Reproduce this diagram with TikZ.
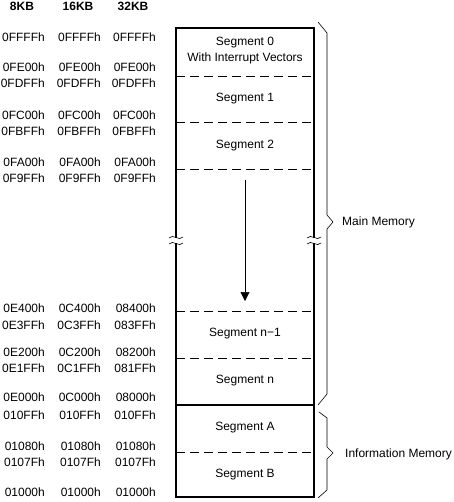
\documentclass[tikz,border=0pt]{standalone}
\usepackage{fontspec}
\setmainfont{Liberation Sans}
\usetikzlibrary{arrows.meta}
\begin{document}
\begin{tikzpicture}[x=1pt,y=-1pt,
  addr/.style={anchor=east,inner sep=0pt,font=\fontsize{12}{13}\selectfont},
  hdr/.style={inner sep=0pt,font=\fontsize{12}{13}\selectfont\bfseries},
  seg/.style={inner sep=0pt,font=\fontsize{12}{16}\selectfont,align=center},
  segline/.style={line width=0.8pt,dash pattern=on 9pt off 5pt},
  boxline/.style={line width=1.4pt},
  brace/.style={line width=0.6pt},
  lbl/.style={anchor=west,inner sep=0pt,font=\fontsize{12}{13}\selectfont}]
\useasboundingbox (0,0) rectangle (453,502);
% headers
\node[hdr] (h8)  at (22,6)  {8KB};
\node[hdr] (h16) at (78,6)  {16KB};
\node[hdr] (h32) at (133,6) {32KB};
% addresses
\foreach \y/\a/\b/\c [count=\i] in {
  37/0FFFFh/0FFFFh/0FFFFh,
  67/0FE00h/0FE00h/0FE00h,
  83/0FDFFh/0FDFFh/0FDFFh,
  115/0FC00h/0FC00h/0FC00h,
  131/0FBFFh/0FBFFh/0FBFFh,
  162/0FA00h/0FA00h/0FA00h,
  178/0F9FFh/0F9FFh/0F9FFh,
  308/0E400h/0C400h/08400h,
  325/0E3FFh/0C3FFh/083FFh,
  352/0E200h/0C200h/08200h,
  368/0E1FFh/0C1FFh/081FFh,
  397/0E000h/0C000h/08000h,
  415/010FFh/010FFh/010FFh,
  446/01080h/01080h/01080h,
  462/0107Fh/0107Fh/0107Fh,
  492/01000h/01000h/01000h}{
  \node[addr] (a\i) at (45,\y) {\a};
  \node[addr] (b\i) at (101,\y) {\b};
  \node[addr] (c\i) at (156,\y) {\c};
}
% memory box
\draw[boxline] (176,28) rectangle (314,497);
\foreach \y in {76,122,169,311,358,452}
  \draw[segline] (176,\y) -- (314,\y);
\draw[boxline] (176,405) -- (314,405);
% break marks
\foreach \x in {176,314}{
  \fill[white] (\x-6,237.5) rectangle (\x+6,242.5);
  \draw[line width=0.6pt] (\x-7,238) .. controls (\x-3,233) and (\x+3,242) .. (\x+7,237);
  \draw[line width=0.6pt] (\x-7,244) .. controls (\x-3,239) and (\x+3,248) .. (\x+7,243);
}
% segment labels
\node[seg] (s0) at (245,51) {Segment 0\\With Interrupt Vectors};
\node[seg] (s1) at (245,99) {Segment 1};
\node[seg] (s2) at (245,146) {Segment 2};
\node[seg] (sn1) at (245,334) {Segment n−1};
\node[seg] (sn) at (245,381) {Segment n};
\node[seg] (sA) at (245,428) {Segment A};
\node[seg] (sB) at (245,475) {Segment B};
% arrow
\coordinate (arrS) at (245,180);
\coordinate (arrE) at (245,301);
\draw[line width=0.6pt,-{Triangle[length=9pt,width=9pt]}] (arrS) -- (arrE);
% braces
\draw[brace] (318,22) -- (327,33) -- (327,215) -- (333,222) -- (327,229) -- (327,394) -- (318,405);
\draw[brace] (319,412) -- (327,418) -- (327,447) -- (333,453) -- (327,459) -- (327,490) -- (318,498);
\node[lbl] (mm) at (342,222) {Main Memory};
\node[lbl] (im) at (345,454) {Information Memory};
\end{tikzpicture}
\end{document}
